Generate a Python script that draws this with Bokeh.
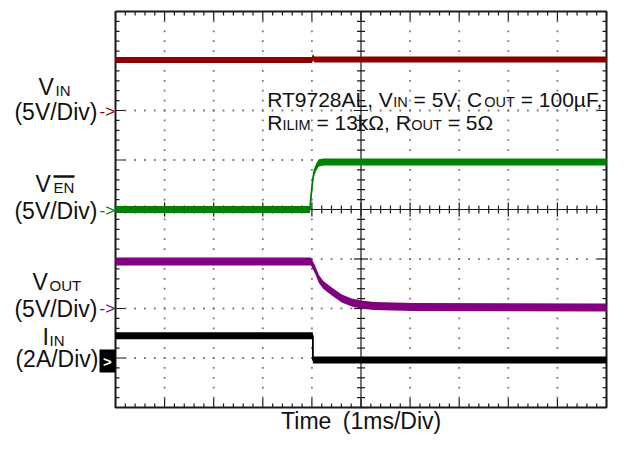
import numpy as np
from bokeh.plotting import figure
from bokeh.models import Range1d
from bokeh.core.properties import value
from bokeh.embed import file_html
from bokeh.resources import INLINE

# ---------------- data (time in ms, values in V / A) ----------------
t_vin = [-5.0, -1.0, -0.98, -0.95, 5.0]
v_vin = [5.1, 5.1, 5.4, 5.15, 5.15]

t_ven = [-5.0, -1.04, -1.02, -0.99, -0.96, -0.91, -0.86, -0.76, 5.0]
v_ven = [0.0, 0.0, 1.2, 2.7, 3.7, 4.3, 4.7, 4.8, 4.8]

t_vout = [-5.0, -1.02, -0.94, -0.86, -0.77, -0.67, -0.53, -0.39, -0.19, 0.0, 0.27, 1.06, 5.0]
v_vout = [4.75, 4.75, 4.0, 3.0, 2.4, 2.0, 1.5, 1.0, 0.6, 0.4, 0.25, 0.15, 0.1]

t_iin = [-5.0, -0.98, -0.98, 5.0]
i_iin = [0.9, 0.9, -0.08, -0.08]

# channel offsets (div) and scales (unit/div)
ch_offset = {"vin": 2.0, "ven": 0.0, "vout": -2.0, "iin": -3.0}
ch_scale = {"vin": 5.0, "ven": 5.0, "vout": 5.0, "iin": 2.0}

# ---------------- geometry helpers ----------------
W, H = 608, 434
FL, FR = 115, 606          # frame left/right in px
PXX = (FR - FL) / 10.0     # px per horizontal division
PXY = 49.5                 # px per vertical division


def Xabs(px):              # absolute pixel position -> data
    return (px - FL) / PXX - 5


def Xref(px):              # position relative to the reference screen grid
    return (px - 115) / 50.4 - 5


def Y(py):
    return 4 - (py - 11) / PXY


p = figure(width=W, height=H, output_backend="svg", toolbar_location=None,
           x_range=Range1d(Xabs(0), Xabs(W)), y_range=Range1d(Y(H), Y(0)),
           x_axis_location=None, y_axis_location=None,
           min_border=0, min_border_left=0, min_border_right=0,
           min_border_top=0, min_border_bottom=0)
p.grid.visible = False
p.outline_line_color = None
p.background_fill_color = "white"
p.border_fill_color = "white"

FRAME = "#1a1a1a"
minor_x = np.round(np.linspace(-5, 5, 51), 3)
minor_y = np.round(np.linspace(-4, 4, 41), 3)

# dotted grid
dx, dy = [], []
for gx in [-4, -3, -2, -1, 1, 2, 3, 4]:
    for yy in minor_y[1:-1]:
        dx.append(gx); dy.append(yy)
for gy in [-3, -2, -1, 1, 2, 3]:
    for xx in minor_x[1:-1]:
        dx.append(xx); dy.append(gy)
p.scatter(dx, dy, marker="square", size=1.8, fill_color="#777777", line_color=None)

# center lines with ticks
p.segment(x0=[-5, 0], y0=[0, -4], x1=[5, 0], y1=[0, 4], line_color=FRAME, line_width=1.2)
sx0, sy0, sx1, sy1 = [], [], [], []
for xx in minor_x:
    major = abs(xx - round(xx)) < 1e-6
    L = (7 if major else 4) / PXY
    sx0.append(xx); sx1.append(xx); sy0.append(-L); sy1.append(L)
for yy in minor_y:
    major = abs(yy - round(yy)) < 1e-6
    L = (7 if major else 4) / PXX
    sy0.append(yy); sy1.append(yy); sx0.append(-L); sx1.append(L)
# frame edge ticks
for xx in minor_x:
    major = abs(xx - round(xx)) < 1e-6
    L = (9 if major else 4) / PXY
    sx0 += [xx, xx]; sx1 += [xx, xx]
    sy0 += [4, -4]; sy1 += [4 - L, -4 + L]
for yy in minor_y:
    major = abs(yy - round(yy)) < 1e-6
    L = (9 if major else 4) / PXX
    sy0 += [yy, yy]; sy1 += [yy, yy]
    sx0 += [-5, 5]; sx1 += [-5 + L, 5 - L]
p.segment(x0=sx0, y0=sy0, x1=sx1, y1=sy1, line_color=FRAME, line_width=1.2)

# frame
p.line([-5, 5, 5, -5, -5], [4, 4, -4, -4, 4], line_color=FRAME, line_width=2)


# ---------------- traces ----------------
def trace(t, vals, ch, half_px, color):
    yc = [ch_offset[ch] + v / ch_scale[ch] for v in vals]
    d = half_px / PXY
    p.varea(x=t, y1=[y - d for y in yc], y2=[y + d for y in yc], fill_color=color)
    p.line(t, yc, line_color=color, line_width=1.8)


trace(t_vin, v_vin, "vin", 3.0, "#8b0000")
trace(t_ven, v_ven, "ven", 3.6, "#008000")
trace(t_vout, v_vout, "vout", 4.0, "#800080")
trace(t_iin, i_iin, "iin", 3.4, "#000000")

# ---------------- texts ----------------
FONT = value("Liberation Sans")
TXT = "#111111"


def txt(x, base_py, s, size, align="left", color=TXT, style="normal", mid=False):
    # base_py: alphabetic baseline in px (or the middle when mid=True)
    ym = base_py if mid else base_py - 0.35 * size
    p.text(x=[x], y=[Y(ym)], text=[s], text_font=FONT,
           text_font_size=value(f"{size}px"), text_align=align,
           text_baseline="middle", text_color=color, text_font_style=style)


BIG, SMALL = 23, 15
# VIN
txt(Xabs(38), 95, "V", BIG)
txt(Xabs(55), 95, "IN", SMALL)
txt(Xabs(97), 119.5, "(5V/Div)", BIG, align="right")
txt(Xabs(99), 111, "->", 17, color="#8b0000", mid=True)
# VEN
txt(Xabs(35), 192, "V", BIG)
txt(Xabs(53), 192, "EN", SMALL)
p.segment(x0=[Xabs(53)], y0=[Y(176)], x1=[Xabs(74)], y1=[Y(176)], line_color=TXT, line_width=2.5)
txt(Xabs(97), 218.5, "(5V/Div)", BIG, align="right")
txt(Xabs(99), 210, "->", 17, color="#008000", mid=True)
# VOUT
txt(Xabs(32), 290, "V", BIG)
txt(Xabs(49), 290, "OUT", SMALL)
txt(Xabs(97), 316.5, "(5V/Div)", BIG, align="right")
txt(Xabs(99), 308, "->", 17, color="#800080", mid=True)
# IIN
txt(Xabs(42), 345, "I", BIG)
txt(Xabs(49), 345, "IN", SMALL)
txt(Xabs(98), 367, "(2A/Div)", BIG, align="right")
p.quad(left=[Xabs(99)], right=[Xabs(115)], top=[Y(349)], bottom=[Y(372)],
       fill_color="black", line_color=None)
txt(Xabs(107), 360.5, ">", 15, align="center", color="white", style="bold", mid=True)

# annotation (segments flow one after another)
AB, AS = 21, 14.5
L0 = Xref(270.7)
u = 1.0 / PXX  # one pixel in data units
line1 = [("RT9728AL, V", 0.0, AB), ("IN", 126.1, AS), ("= 5V, C", 146.4, AB),
         ("OUT", 217.0, AS), ("= 100\u00b5F,", 253.5, AB)]
line2 = [("R", 0.0, AB), ("ILIM", 15.2, AS), ("= 13k\u03a9, R", 49.2, AB),
         ("OUT", 144.1, AS), ("= 5\u03a9", 180.5, AB)]
for s, off, sz in line1:
    txt(L0 + off * u, 106.7, s, sz)
for s, off, sz in line2:
    txt(L0 + off * u, 129.3, s, sz)

# time label
txt(Xref(285), 420, "Time", BIG, mid=True)
txt(Xref(348.3), 420, "(1ms/Div)", BIG, mid=True)

open("out.html", "w").write(file_html(p, INLINE))
